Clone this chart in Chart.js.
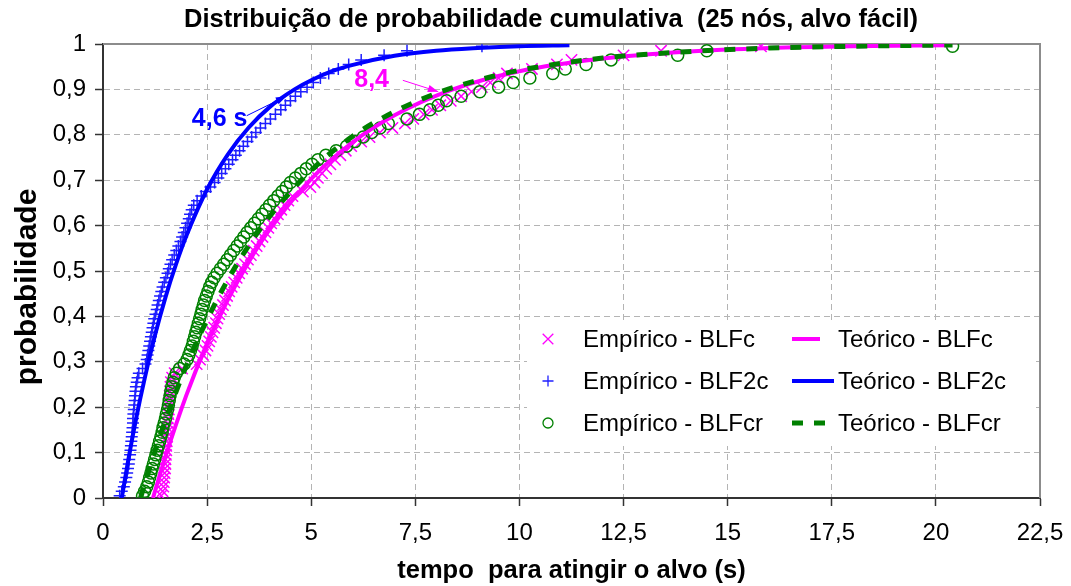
<!DOCTYPE html>
<html lang="pt">
<head>
<meta charset="utf-8">
<title>Distribuição de probabilidade cumulativa</title>
<script src="https://cdn.jsdelivr.net/npm/chart.js@4/dist/chart.umd.min.js"></script>
<style>
  html, body { margin: 0; padding: 0; background: #fff; }
  #wrap { width: 1071px; height: 586px; }
</style>
</head>
<body>
<div id="wrap"><canvas id="ttt"></canvas></div>
<script>
// ------------------------------------------------------------
// dados: 100 execuções por variante, tempos ordenados (s)
// ------------------------------------------------------------
const probs = [
  0.005,0.015,0.025,0.035,0.045,0.055,0.065,0.075,0.085,0.095,
  0.105,0.115,0.125,0.135,0.145,0.155,0.165,0.175,0.185,0.195,
  0.205,0.215,0.225,0.235,0.245,0.255,0.265,0.275,0.285,0.295,
  0.305,0.315,0.325,0.335,0.345,0.355,0.365,0.375,0.385,0.395,
  0.405,0.415,0.425,0.435,0.445,0.455,0.465,0.475,0.485,0.495,
  0.505,0.515,0.525,0.535,0.545,0.555,0.565,0.575,0.585,0.595,
  0.605,0.615,0.625,0.635,0.645,0.655,0.665,0.675,0.685,0.695,
  0.705,0.715,0.725,0.735,0.745,0.755,0.765,0.775,0.785,0.795,
  0.805,0.815,0.825,0.835,0.845,0.855,0.865,0.875,0.885,0.895,
  0.905,0.915,0.925,0.935,0.945,0.955,0.965,0.975,0.985,0.995
];

const tempoBLFc = [
  1.40,1.43,1.45,1.46,1.47,1.48,1.49,1.50,1.50,1.51,
  1.52,1.52,1.53,1.54,1.54,1.55,1.56,1.56,1.57,1.58,
  1.58,1.59,1.60,1.61,1.62,1.63,1.66,1.72,1.90,2.25,
  2.33,2.40,2.46,2.51,2.55,2.59,2.63,2.67,2.71,2.75,
  2.79,2.83,2.88,2.93,2.98,3.03,3.09,3.15,3.21,3.27,
  3.34,3.41,3.48,3.55,3.62,3.69,3.76,3.83,3.90,3.97,
  4.04,4.12,4.20,4.28,4.36,4.45,4.55,4.80,4.98,5.08,
  5.16,5.26,5.36,5.46,5.57,5.70,5.83,5.96,6.20,6.40,
  6.65,6.95,7.25,7.45,7.70,7.90,8.10,8.35,8.60,8.85,
  9.10,9.30,9.50,9.70,10.30,10.90,11.25,12.50,13.40,15.80
];

const tempoBLF2c = [
  0.40,0.45,0.50,0.53,0.56,0.58,0.60,0.62,0.63,0.65,
  0.66,0.67,0.68,0.69,0.70,0.71,0.72,0.72,0.73,0.74,
  0.75,0.76,0.77,0.78,0.79,0.81,0.83,0.86,0.95,1.02,
  1.05,1.07,1.09,1.11,1.13,1.15,1.17,1.19,1.21,1.23,
  1.26,1.29,1.31,1.34,1.37,1.40,1.43,1.47,1.51,1.55,
  1.58,1.62,1.66,1.71,1.76,1.81,1.86,1.90,1.94,1.98,
  2.02,2.06,2.09,2.13,2.18,2.26,2.36,2.47,2.58,2.68,
  2.77,2.85,2.94,3.02,3.11,3.19,3.28,3.37,3.47,3.57,
  3.67,3.78,3.90,4.02,4.14,4.27,4.38,4.50,4.62,4.75,
  4.90,5.05,5.22,5.42,5.65,5.90,6.20,6.75,7.30,9.10
];

const tempoBLFcr = [
  0.95,1.00,1.05,1.09,1.12,1.15,1.18,1.21,1.24,1.27,
  1.30,1.33,1.36,1.39,1.42,1.44,1.47,1.50,1.52,1.55,
  1.57,1.59,1.61,1.63,1.65,1.68,1.71,1.76,1.84,1.95,
  2.02,2.06,2.10,2.14,2.17,2.20,2.23,2.26,2.29,2.32,
  2.35,2.38,2.41,2.44,2.48,2.52,2.56,2.61,2.67,2.74,
  2.82,2.90,2.98,3.06,3.14,3.22,3.30,3.38,3.46,3.55,
  3.64,3.73,3.82,3.91,4.00,4.10,4.20,4.30,4.40,4.50,
  4.62,4.75,4.88,5.02,5.16,5.35,5.60,5.85,6.05,6.25,
  6.45,6.65,6.85,7.30,7.60,7.85,8.05,8.25,8.60,9.05,
  9.50,9.85,10.25,10.80,11.10,11.60,12.20,13.80,14.50,20.40
];

// curvas teóricas (exponencial deslocada)
const teoBLFcT  = [1.2,1.5,2.0,2.5,3.0,3.5,4.0,5.0,6.0,7.0,8.4,10,12,14,16,18,20.3];
const teoBLFcP  = [0,0.091,0.226,0.340,0.437,0.520,0.591,0.703,0.784,0.843,0.900,0.940,0.968,0.983,0.991,0.995,0.997];
const teoBLF2cT = [0.45,0.6,0.8,1.0,1.25,1.5,1.75,2.0,2.5,3.0,3.5,4.0,4.6,5.0,5.5,6.0,7.0,8.0,9.0,10.0,11.2];
const teoBLF2cP = [0,0.080,0.177,0.263,0.359,0.442,0.514,0.577,0.680,0.757,0.816,0.861,0.900,0.920,0.940,0.954,0.974,0.985,0.991,0.995,0.997];
const teoBLFcrT = [0.9,1.25,1.5,2.0,2.5,3.0,3.5,4.0,5.0,6.0,7.0,8.0,9.0,10,12,14,16,18,20.4];
const teoBLFcrP = [0,0.104,0.171,0.291,0.393,0.481,0.556,0.620,0.722,0.797,0.851,0.891,0.920,0.942,0.969,0.983,0.991,0.995,0.998];

const xTickLabels = ['0','2,5','5','7,5','10','12,5','15','17,5','20','22,5'];
const yTickLabels = ['0','0,1','0,2','0,3','0,4','0,5','0,6','0,7','0,8','0,9','1'];

// tempo no percentil 90 marcado no gráfico
const marcas = [
  { texto: '4,6 s', cor: '#0000ff', ponta: [4.4, 0.885], inicio: [3.45, 0.842], rotulo: [2.8, 0.835] },
  { texto: '8,4',   cor: '#ff00ff', ponta: [8.05, 0.895], inicio: [7.2, 0.92], rotulo: [6.45, 0.92] }
];

const FONTE = '"Liberation Sans", Arial, Helvetica, sans-serif';

const pts = (xs, ys) => xs.map((x, i) => ({ x, y: ys[i] }));

// ------------------------------------------------------------
// plugins: moldura, legenda, título do eixo y e anotações
// ------------------------------------------------------------
const molduraPlugin = {
  id: 'moldura',
  beforeDatasetsDraw(chart) {
    const { ctx, chartArea: a } = chart;
    ctx.save();
    ctx.strokeStyle = '#8c8c8c';
    ctx.lineWidth = 2;
    ctx.beginPath();
    ctx.moveTo(a.left, a.top);
    ctx.lineTo(a.right, a.top);
    ctx.lineTo(a.right, a.bottom);
    ctx.stroke();

    // título do eixo y, um pouco abaixo do centro da área
    ctx.translate(28, (a.top + a.bottom) / 2 + 16);
    ctx.rotate(-Math.PI / 2);
    ctx.font = 'bold 30px ' + FONTE;
    ctx.fillStyle = '#000';
    ctx.textAlign = 'center';
    ctx.textBaseline = 'middle';
    ctx.fillText('probabilidade', 0, 0);
    ctx.restore();
  }
};

const legendaPlugin = {
  id: 'legenda',
  afterDatasetsDraw(chart) {
    const { ctx, chartArea: a } = chart;
    const ds = chart.data.datasets;
    const emp = ['Empírico - BLFc', 'Empírico - BLF2c', 'Empírico - BLFcr'];
    const teo = ['Teórico - BLFc', 'Teórico - BLF2c', 'Teórico - BLFcr'];
    const x0 = a.left + 424, y0 = 320;
    ctx.save();
    ctx.fillStyle = '#fff';
    ctx.fillRect(x0, y0, a.right - x0 - 4, 126);
    ctx.font = '24px ' + FONTE;
    ctx.textBaseline = 'middle';
    emp.forEach((lbl, r) => {
      const y = y0 + 19 + r * 42;
      const d = ds.find(o => o.label === lbl);
      ctx.strokeStyle = d.borderColor;
      ctx.fillStyle = 'rgba(0,0,0,0)';
      ctx.lineWidth = 1.3;
      const raio = d.pointStyle === 'circle' ? 5 : (d.pointStyle === 'crossRot' ? 7.5 : 5.5);
      Chart.helpers.drawPoint(ctx, { pointStyle: d.pointStyle, radius: raio, borderWidth: 1.3 }, x0 + 21, y);
      ctx.fillStyle = '#000';
      ctx.fillText(lbl, x0 + 56, y + 1);

      const t = ds.find(o => o.label === teo[r]);
      ctx.strokeStyle = t.borderColor;
      ctx.lineWidth = t.borderWidth;
      ctx.setLineDash(t.borderDash || []);
      const len = r === 0 ? 28 : 42;
      ctx.beginPath();
      ctx.moveTo(x0 + 265, y);
      ctx.lineTo(x0 + 265 + len, y);
      ctx.stroke();
      ctx.setLineDash([]);
      ctx.fillStyle = '#000';
      ctx.fillText(teo[r], x0 + 311, y + 1);
    });
    ctx.restore();
  }
};

const marcasPlugin = {
  id: 'marcas',
  afterDatasetsDraw(chart) {
    const { ctx, scales: { x, y } } = chart;
    ctx.save();
    ctx.font = 'bold 25px ' + FONTE;
    ctx.textAlign = 'center';
    ctx.textBaseline = 'middle';
    marcas.forEach(m => {
      const px = v => x.getPixelForValue(v[0]);
      const py = v => y.getPixelForValue(v[1]);
      const sx = px(m.inicio), sy = py(m.inicio);
      const ex = px(m.ponta), ey = py(m.ponta);
      ctx.strokeStyle = m.cor;
      ctx.fillStyle = m.cor;
      ctx.lineWidth = 1;
      ctx.beginPath();
      ctx.moveTo(sx, sy);
      ctx.lineTo(ex, ey);
      ctx.stroke();
      const ang = Math.atan2(ey - sy, ex - sx);
      ctx.beginPath();
      ctx.moveTo(ex, ey);
      ctx.lineTo(ex - 11 * Math.cos(ang - 0.35), ey - 11 * Math.sin(ang - 0.35));
      ctx.lineTo(ex - 11 * Math.cos(ang + 0.35), ey - 11 * Math.sin(ang + 0.35));
      ctx.closePath();
      ctx.fill();
      ctx.fillText(m.texto, px(m.rotulo), py(m.rotulo));
    });
    ctx.restore();
  }
};

// ------------------------------------------------------------
// gráfico
// ------------------------------------------------------------
const ttt = new Chart(document.getElementById('ttt'), {
  type: 'scatter',
  data: {
    datasets: [
      { label: 'Teórico - BLFcr', data: pts(teoBLFcrT, teoBLFcrP), showLine: true, borderColor: '#008000', borderWidth: 5, borderDash: [11, 11], pointRadius: 0, cubicInterpolationMode: 'monotone' },
      { label: 'Teórico - BLF2c', data: pts(teoBLF2cT, teoBLF2cP), showLine: true, borderColor: '#0000ff', borderWidth: 4, pointRadius: 0, cubicInterpolationMode: 'monotone' },
      { label: 'Teórico - BLFc',  data: pts(teoBLFcT, teoBLFcP),   showLine: true, borderColor: '#ff00ff', borderWidth: 4, pointRadius: 0, cubicInterpolationMode: 'monotone' },
      { label: 'Empírico - BLFcr', data: pts(tempoBLFcr, probs), pointStyle: 'circle',   pointRadius: 6,   borderColor: '#008000', backgroundColor: 'rgba(0,0,0,0)', pointBorderWidth: 1.5 },
      { label: 'Empírico - BLF2c', data: pts(tempoBLF2c, probs), pointStyle: 'cross',    pointRadius: 6,   borderColor: '#1f1fff', pointBorderWidth: 1.5 },
      { label: 'Empírico - BLFc',  data: pts(tempoBLFc, probs),  pointStyle: 'crossRot', pointRadius: 8,   borderColor: '#ff00ff', pointBorderWidth: 1.5 }
    ]
  },
  options: {
    responsive: true,
    maintainAspectRatio: false,
    animation: false,
    events: [],
    // o título fica centrado um pouco à direita do meio da tela
    layout: { padding: { left: 12, right: -19, top: 0, bottom: 0 } },
    plugins: {
      legend: { display: false },
      tooltip: { enabled: false },
      title: {
        display: true,
        text: 'Distribuição de probabilidade cumulativa  (25 nós, alvo fácil)',
        color: '#000',
        font: { family: FONTE, size: 25.5, weight: 'bold' },
        padding: { top: 5, bottom: 8.4 }
      }
    },
    scales: {
      x: {
        type: 'linear',
        min: 0, max: 22.5,
        afterFit: s => { s.height = 88; s.paddingLeft = 0; s.paddingRight = 0; },
        ticks: {
          stepSize: 2.5,
          color: '#000',
          padding: 13,
          maxRotation: 0,
          font: { family: FONTE, size: 24 },
          callback: (v, i) => xTickLabels[i]
        },
        grid: { color: '#b4b4b4', lineWidth: 1, tickLength: 8, tickColor: '#333', tickWidth: 1.5 },
        border: { color: '#333', width: 2, dash: [6, 4] },
        title: {
          display: true,
          text: 'tempo  para atingir o alvo (s)',
          color: '#000',
          font: { family: FONTE, size: 25.5, weight: 'bold' },
          padding: { top: 0, bottom: 0 }
        }
      },
      y: {
        min: 0, max: 1,
        afterFit: s => { s.width = 91; },
        ticks: {
          stepSize: 0.1,
          color: '#000',
          padding: 9,
          font: { family: FONTE, size: 24 },
          callback: (v, i) => yTickLabels[i]
        },
        grid: { color: '#b4b4b4', lineWidth: 1, tickLength: 8, tickColor: '#333', tickWidth: 1.5 },
        border: { color: '#333', width: 2, dash: [6, 4] },
        title: { display: false }
      },
      // eixo vazio à direita: só reserva a margem
      margemDir: {
        type: 'linear',
        position: 'right',
        afterFit: s => { s.width = 50; },
        ticks: { display: false },
        grid: { display: false, drawTicks: false },
        border: { display: false }
      }
    }
  },
  plugins: [molduraPlugin, legendaPlugin, marcasPlugin]
});
</script>
</body>
</html>
